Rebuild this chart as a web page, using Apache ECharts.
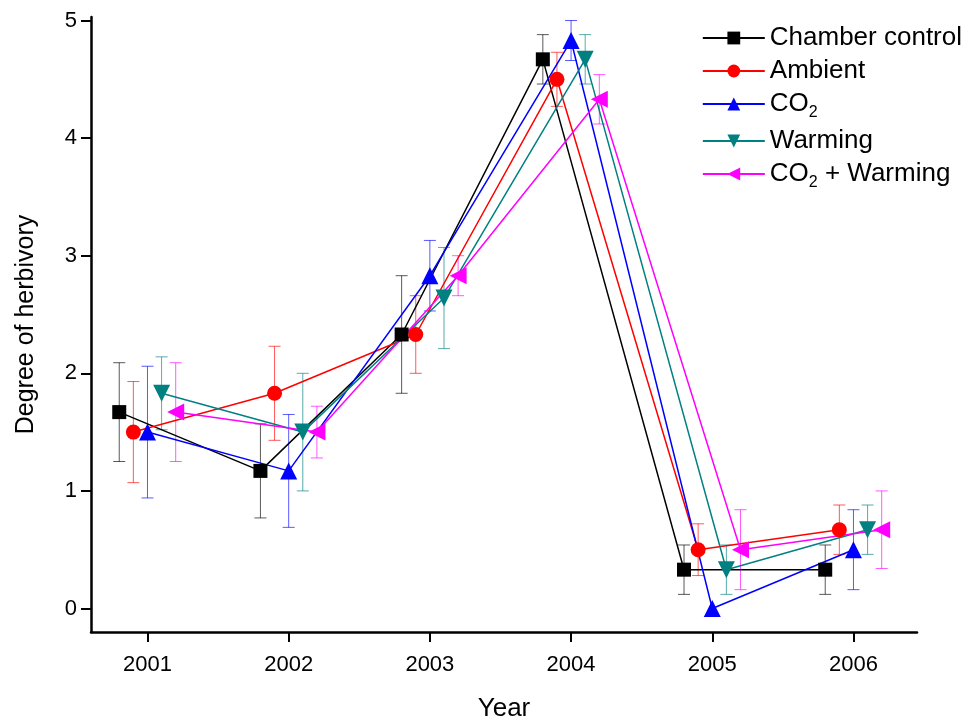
<!DOCTYPE html>
<html>
<head>
<meta charset="utf-8">
<script src="https://cdn.jsdelivr.net/npm/echarts@6/dist/echarts.min.js"></script>
<style>
  html, body { margin: 0; padding: 0; background: #fff; }
  #chart { width: 974px; height: 721px; }
</style>
</head>
<body>
<div id="chart"></div>
<script>
// years on the x axis
const years = [2001, 2002, 2003, 2004, 2005, 2006]
const yTicks = [0, 1, 2, 3, 4, 5]

// means and error (+/-) per treatment
const chamberMean = [1.67, 1.17, 2.33, 4.67, 0.33, 0.33]
const chamberErr = [0.42, 0.40, 0.50, 0.21, 0.21, 0.21]
const ambientMean = [1.50, 1.83, 2.33, 4.50, 0.50, 0.67]
const ambientErr = [0.43, 0.40, 0.33, 0.23, 0.22, 0.21]
const co2Mean = [1.50, 1.17, 2.83, 4.83, 0.00, 0.50]
const co2Err = [0.56, 0.48, 0.30, 0.17, 0.00, 0.34]
const warmingMean = [1.83, 1.50, 2.64, 4.67, 0.33, 0.67]
const warmingErr = [0.31, 0.50, 0.43, 0.21, 0.21, 0.21]
const co2WarmMean = [1.67, 1.50, 2.83, 4.33, 0.50, 0.67]
const co2WarmErr = [0.42, 0.22, 0.17, 0.21, 0.34, 0.33]

const groups = [
  { name: 'Chamber control', mean: chamberMean, err: chamberErr, shift: -0.2, color: '#000000', symbol: 'rect', size: 14, rotate: 0 },
  { name: 'Ambient', mean: ambientMean, err: ambientErr, shift: -0.1, color: '#ff0000', symbol: 'circle', size: 15, rotate: 0 },
  { name: 'CO2', mean: co2Mean, err: co2Err, shift: 0, color: '#0000ff', symbol: 'triangle', size: 17, rotate: 0 },
  { name: 'Warming', mean: warmingMean, err: warmingErr, shift: 0.1, color: '#008080', symbol: 'triangle', size: 17, rotate: 180 },
  { name: 'CO2 + Warming', mean: co2WarmMean, err: co2WarmErr, shift: 0.2, color: '#ff00ff', symbol: 'triangle', size: 17, rotate: 90 }
]

const font = 'Liberation Sans, Arial, sans-serif'

const series = []
// error bars first so markers sit on top
groups.forEach(g => {
  series.push({
    type: 'custom',
    name: g.name + '_err',
    silent: true,
    z: 1,
    data: years.map((yr, i) => [yr + g.shift, g.mean[i] - g.err[i], g.mean[i] + g.err[i]]),
    renderItem: (params, api) => {
      if (api.value(2) - api.value(1) <= 0) return null
      const lo = api.coord([api.value(0), api.value(1)])
      const hi = api.coord([api.value(0), api.value(2)])
      const w = 6
      const st = { stroke: g.color, lineWidth: 1, opacity: 0.65 }
      return {
        type: 'group',
        children: [
          { type: 'line', shape: { x1: lo[0], y1: lo[1], x2: hi[0], y2: hi[1] }, style: st },
          { type: 'line', shape: { x1: lo[0] - w, y1: lo[1], x2: lo[0] + w, y2: lo[1] }, style: st },
          { type: 'line', shape: { x1: hi[0] - w, y1: hi[1], x2: hi[0] + w, y2: hi[1] }, style: st }
        ]
      }
    }
  })
})
groups.forEach(g => {
  series.push({
    type: 'line',
    name: g.name,
    z: 3,
    symbol: g.symbol,
    symbolSize: g.size,
    symbolRotate: g.rotate,
    showAllSymbol: true,
    lineStyle: { color: g.color, width: 1.5 },
    itemStyle: { color: g.color },
    data: years.map((yr, i) => [yr + g.shift, g.mean[i]])
  })
})

const chart = echarts.init(document.getElementById('chart'))
chart.setOption({
  backgroundColor: '#fff',
  animation: false,
  grid: { left: 91, right: 57, top: 17, bottom: 89, outerBoundsMode: 'none' },
  legend: {
    data: groups.map(g => g.name),
    orient: 'vertical',
    right: 7,
    top: 20,
    itemWidth: 62,
    itemHeight: 16,
    itemGap: 7,
    textStyle: {
      color: '#000',
      fontSize: 26,
      fontFamily: font,
      rich: {
        sub: { fontSize: 16, fontFamily: font, color: '#000', padding: [18, 0, 0, 0] }
      }
    },
    formatter: name => name.replace('CO2', 'CO{sub|2}')
  },
  xAxis: {
    type: 'value',
    min: 2000.6,
    max: 2006.45,
    name: 'Year',
    nameLocation: 'middle',
    nameGap: 64,
    nameTextStyle: { fontSize: 26, fontFamily: font, color: '#000' },
    splitLine: { show: false },
    axisLine: { show: true, onZero: false, lineStyle: { color: '#000', width: 2.5 } },
    axisTick: { show: true, customValues: years, length: 10, lineStyle: { color: '#000', width: 2 } },
    axisLabel: {
      customValues: years,
      margin: 22,
      fontSize: 22,
      fontFamily: font,
      color: '#000',
      formatter: v => String(v)
    }
  },
  yAxis: {
    type: 'value',
    min: -0.2,
    max: 5.03,
    name: 'Degree of herbivory',
    nameLocation: 'middle',
    nameGap: 52,
    nameRotate: 90,
    nameTextStyle: { fontSize: 25, fontFamily: font, color: '#000' },
    splitLine: { show: false },
    axisLine: { show: true, lineStyle: { color: '#000', width: 2.5 } },
    axisTick: { show: true, customValues: yTicks, length: 10, lineStyle: { color: '#000', width: 2 } },
    axisLabel: {
      customValues: yTicks,
      margin: 14,
      fontSize: 22,
      fontFamily: font,
      color: '#000'
    }
  },
  series: series
})
</script>
</body>
</html>
